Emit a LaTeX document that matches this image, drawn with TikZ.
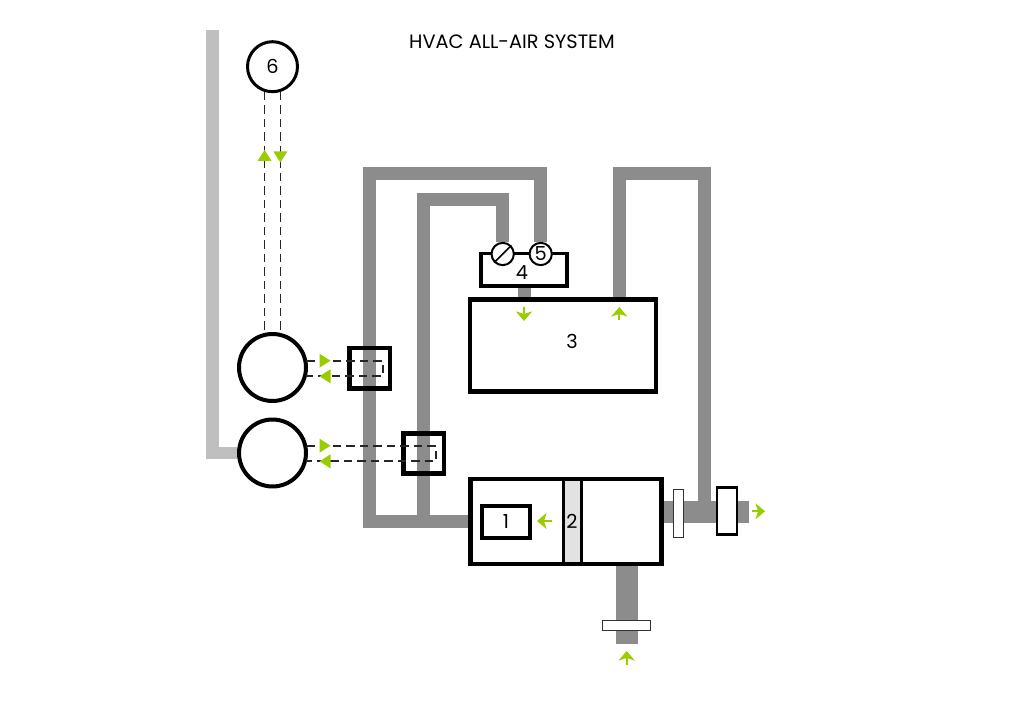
\documentclass[tikz,border=0pt]{standalone}
\usepackage{fontspec}
\setmainfont{Poppins}
\usepackage{xcolor}
\usetikzlibrary{arrows.meta, backgrounds}
\definecolor{ductgray}{RGB}{140,140,140}
\definecolor{pipegray}{RGB}{191,191,191}
\definecolor{filtergray}{RGB}{226,226,226}
\definecolor{flowgreen}{RGB}{154,205,0}
\tikzset{
  label text/.style={font=\fontsize{11pt}{13pt}\selectfont, text=black},
  unitbox/.style={draw, fill=white, line width=0.09cm, inner sep=0pt, label text},
  ringbox/.style={draw, circle, fill=white, inner sep=0pt, label text},
  valvebox/.style={draw, line width=0.09cm, minimum size=0.81cm, inner sep=0pt},
  plate/.style={draw=black!80, fill=white, line width=0.03cm, inner sep=0pt},
  duct/.style={draw=ductgray, line width=0.26cm},
  wideduct/.style={draw=ductgray, line width=0.434cm},
  pipe/.style={draw=pipegray, line width=0.26cm},
  signal/.style={draw=black!85, line width=0.035cm, dash pattern=on 0.17cm off 0.1cm},
  flowarrow/.style={draw=flowgreen, line width=0.045cm, -{Stealth[length=0.19cm,width=0.32cm,inset=0.05cm]}},
  flowtip/.style={fill=flowgreen}
}
\begin{document}
\begin{tikzpicture}[x=0.02cm, y=-0.02cm]
  \useasboundingbox (0,0) rectangle (1024,705);
  \node[label text] (title) at (512,42) {HVAC ALL-AIR SYSTEM};

  \node[unitbox, minimum width=3.82cm, minimum height=1.7cm] (unit) at (566,521.5) {};
  \node[unitbox, fill=filtergray, line width=0.06cm, minimum width=0.36cm, minimum height=1.7cm] (filter) at (572,521.5) {2};
  \node[unitbox, minimum width=0.96cm, minimum height=0.64cm] (fan) at (506,522) {1};
  \node[unitbox, minimum width=3.72cm, minimum height=1.84cm] (room) at (562.8,345.5) {};
  \node[label text] (roomlabel) at (572,341) {3};
  \node[unitbox, line width=0.07cm, minimum width=1.73cm, minimum height=0.65cm] (mixer) at (524,270) {};
  \node[label text] (mixerlabel) at (522,273) {4};
  \node[ringbox, line width=0.04cm, minimum size=0.446cm] (damper) at (502.7,254) {};
  \node[ringbox, line width=0.04cm, minimum size=0.446cm] (sensor) at (540.7,254) {5};
  \node[ringbox, line width=0.06cm, minimum size=1cm] (boiler) at (272.5,66.7) {6};
  \node[ringbox, line width=0.08cm, minimum size=1.34cm] (coilA) at (272.5,367.5) {};
  \node[ringbox, line width=0.08cm, minimum size=1.34cm] (coilB) at (272.5,453) {};
  \node[valvebox] (valveA) at (369.5,368.4) {};
  \node[valvebox] (valveB) at (423.5,453.5) {};
  \node[plate, minimum width=0.2cm, minimum height=0.96cm] (plateA) at (678.5,513.3) {};
  \node[unitbox, line width=0.05cm, minimum width=0.4cm, minimum height=0.95cm] (plateB) at (726.8,511) {};
  \node[plate, minimum width=0.96cm, minimum height=0.2cm] (plateC) at (626.7,625.5) {};
  \draw[line width=0.03cm] (damper.225) -- (damper.45);

  \coordinate (pipeTop) at (212.5,30);
  \coordinate (branchB) at (423.5,521.5);
  \coordinate (returnOut) at (619.5,300);
  \coordinate (exhaustIn) at (663,511.7);
  \coordinate (exhaustOut) at (749,511.7);
  \coordinate (returnIn) at (704.5,511.7);
  \coordinate (intakeEnd) at (626.7,644);
  \coordinate (mixerOut) at (524,288);
  \coordinate (roomIn) at (524,300);
  \begin{scope}[on background layer]
    \draw[pipe] (pipeTop) |- (coilB);
    \draw[duct] (unit.west) -| (369.5,173.5) -| (sensor);
    \draw[duct] (branchB) -- (423.5,200) -| (damper);
    \draw[duct] (mixerOut) -- (roomIn);
    \draw[duct] (returnOut) -- (619.5,173.5) -| (returnIn);
    \draw[wideduct] (exhaustIn) -- (exhaustOut);
    \draw[wideduct] (unit.south -| intakeEnd) -- (intakeEnd);
  \end{scope}

  % control lines
  \foreach \x in {264.6, 280.4} {
    \draw[signal] (\x,92) -- (\x,334);
  }
  \draw[signal] (306,360.7) -- (382.7,360.7) -- (382.7,376.3) -- (306,376.3);
  \draw[signal] (306,445.7) -- (436,445.7) -- (436,461.3) -- (306,461.3);

  % green tips
  \foreach \x/\y/\r in {264.6/155.5/90, 280.4/157/-90, 325/360.7/0, 325/376.3/180, 325/445.7/0, 325/461.3/180} {
    \fill[flowtip, shift={(\x,\y)}, rotate=\r] (-5.5,-7) -- (5.5,0) -- (-5.5,7) -- cycle;
  }

  \coordinate (fanA) at (552,521); \coordinate (fanB) at (537,521);
  \coordinate (supA) at (524,307); \coordinate (supB) at (524,321);
  \coordinate (retA) at (619.3,320); \coordinate (retB) at (619.3,307);
  \coordinate (outA) at (751.5,511.3); \coordinate (outB) at (765,511.3);
  \coordinate (inA) at (626.7,665); \coordinate (inB) at (626.7,651);
  \draw[flowarrow] (fanA) -- (fanB);
  \draw[flowarrow] (supA) -- (supB);
  \draw[flowarrow] (retA) -- (retB);
  \draw[flowarrow] (outA) -- (outB);
  \draw[flowarrow] (inA) -- (inB);
\end{tikzpicture}
\end{document}
